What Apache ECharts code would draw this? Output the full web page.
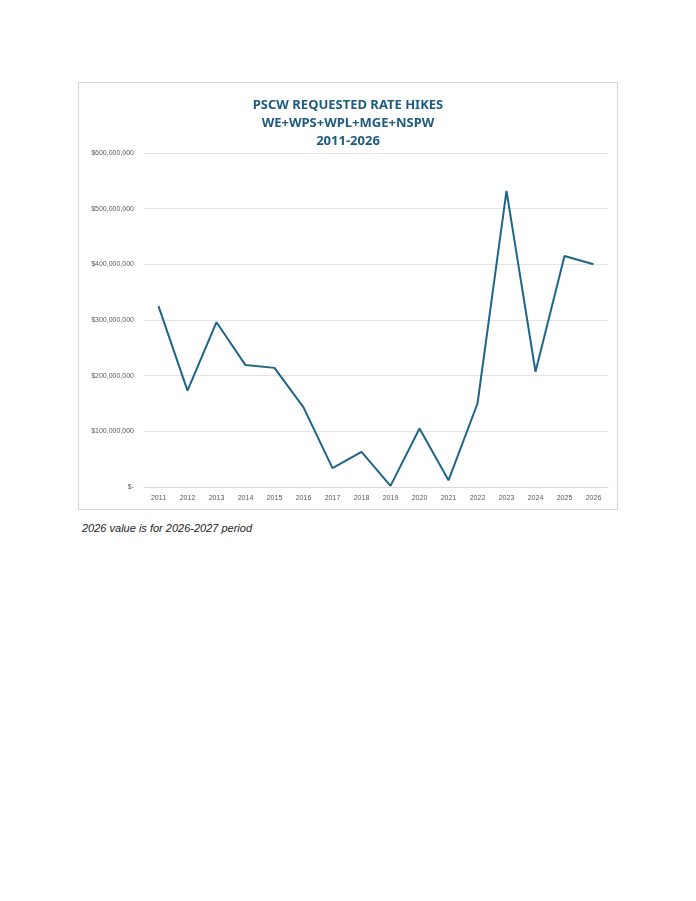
<!DOCTYPE html>
<html><head><meta charset="utf-8">
<script src="https://cdn.jsdelivr.net/npm/echarts@6/dist/echarts.min.js"></script>
<style>
body{margin:0;background:#fff;font-family:Roboto,"Noto Sans",sans-serif;}
#c{position:absolute;left:78px;top:82px;width:540px;height:428px;border:1px solid #d9d9d9;box-sizing:border-box;}
#note{position:absolute;left:82px;top:522px;font-size:11px;font-style:italic;color:#222;font-family:"Liberation Sans",Arial,sans-serif;}
</style></head>
<body>
<div id="c"></div>
<div id="note">2026 value is for 2026-2027 period</div>
<script>
var years = ['2011','2012','2013','2014','2015','2016','2017','2018','2019','2020','2021','2022','2023','2024','2025','2026'];
var hikes = [325e6,173e6,296e6,219e6,214e6,143e6,34e6,63e6,2e6,105e6,12e6,150e6,532e6,207e6,415e6,400e6];
var titleLines = ['PSCW REQUESTED RATE HIKES','WE+WPS+WPL+MGE+NSPW','2011-2026'];

var myChart = echarts.init(document.getElementById('c'));
function money(v){
	if (v === 0) return '$-';
	return '$' + v.toString().replace(/\B(?=(\d{3})+(?!\d))/g, ',');
}
myChart.setOption({
	animation: false,
	title: {
		text: titleLines.join('\n'),
		left: 'center',
		top: 8,
		textStyle: {color: '#1f5b7f', fontSize: 13, fontWeight: 'bold', lineHeight: 18, fontFamily: 'Noto Sans'}
	},
	grid: {left: 65, right: 9, top: 70, bottom: 22},
	xAxis: {
		type: 'category',
		data: years,
		boundaryGap: true,
		axisLine: {lineStyle: {color: '#d9d9d9'}},
		axisTick: {show: false},
		axisLabel: {color: '#595959', fontSize: 7}
	},
	yAxis: {
		type: 'value',
		min: 0,
		max: 600000000,
		interval: 100000000,
		axisLabel: {color: '#595959', fontSize: 7, formatter: money, margin: 10},
		splitLine: {lineStyle: {color: '#e3e3e3'}}
	},
	series: [{
		type: 'line',
		data: hikes,
		symbol: 'none',
		lineStyle: {color: '#1f6587', width: 2}
	}]
});
</script>
</body></html>
